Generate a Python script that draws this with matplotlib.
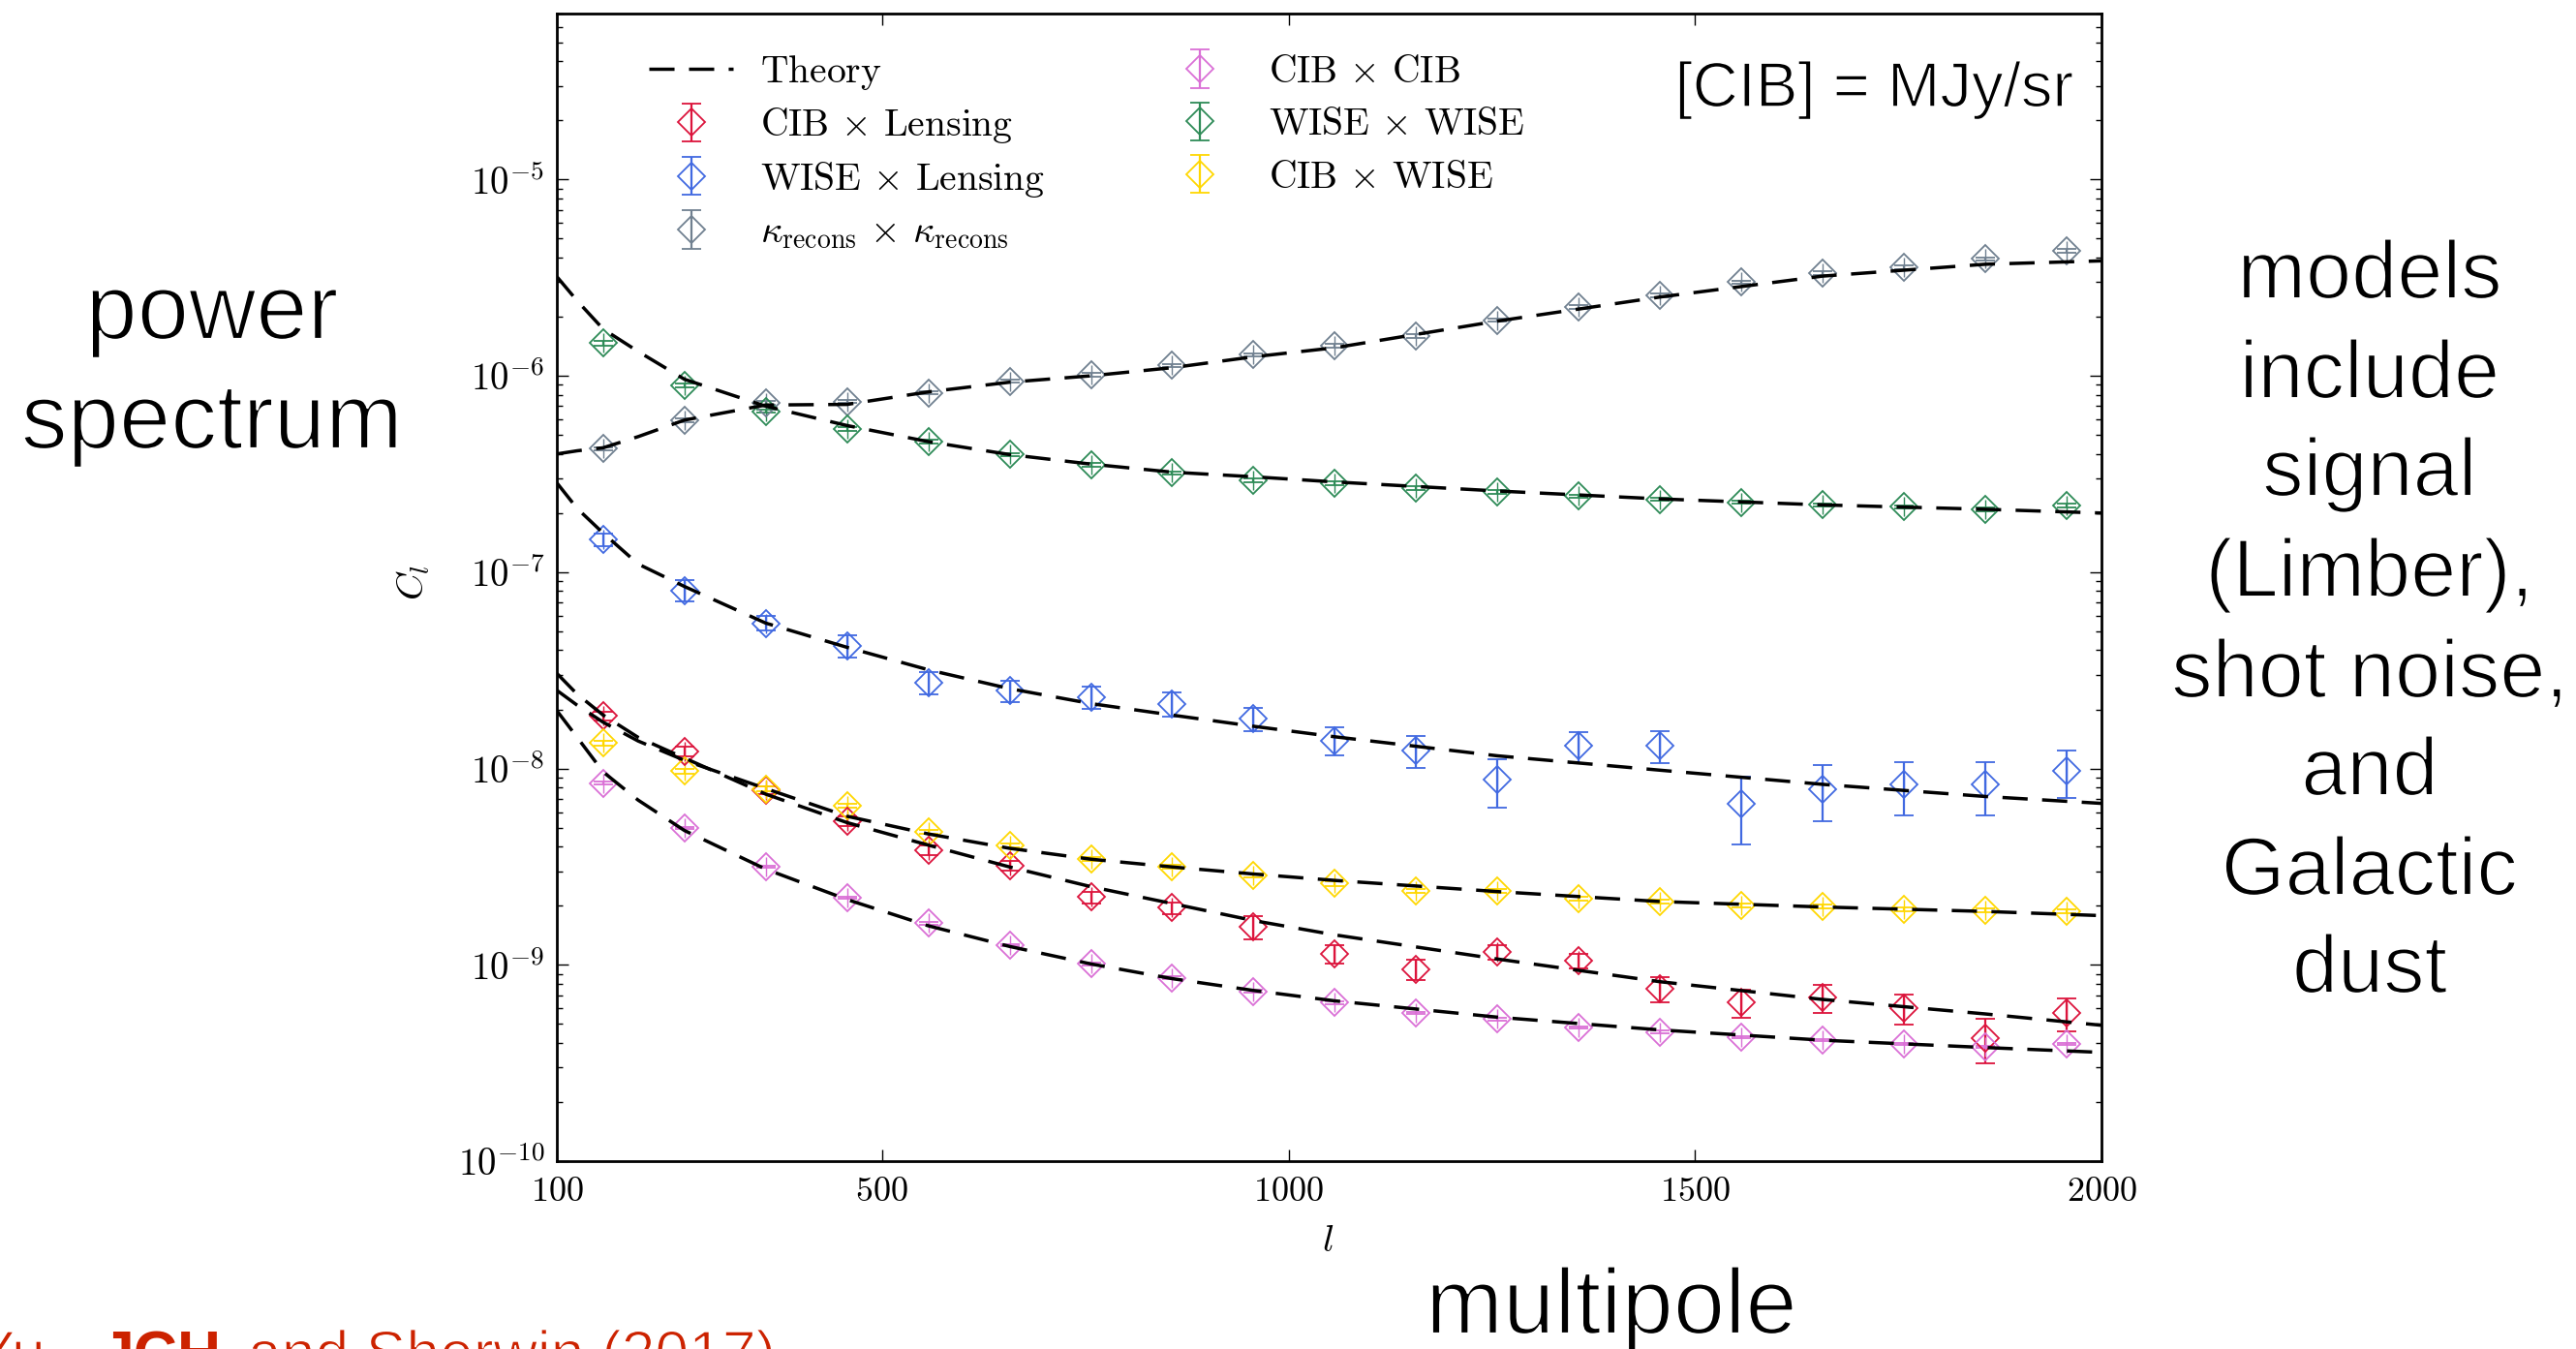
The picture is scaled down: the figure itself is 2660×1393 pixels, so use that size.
import matplotlib
matplotlib.use('Agg')
import matplotlib.pyplot as plt
import matplotlib.patheffects as pe
from matplotlib.lines import Line2D
from matplotlib.ticker import NullLocator, LogLocator

W, H, DPI = 2660, 1393, 100

# ---------------- data ----------------
ell = [157, 257, 357, 457, 557, 657, 757, 857, 957, 1057,
       1157, 1257, 1357, 1457, 1557, 1657, 1757, 1857, 1957]

cib_lens = [1.85e-8, 1.22e-8, 7.73e-9, 5.40e-9, 3.85e-9, 3.19e-9, 2.21e-9, 1.95e-9, 1.56e-9, 1.14e-9,
            9.46e-10, 1.16e-9, 1.05e-9, 7.54e-10, 6.42e-10, 6.79e-10, 6.02e-10, 4.21e-10, 5.67e-10]
cib_lens_err = [8.5e-10, 7e-10, 3.6e-10, 3.1e-10, 2.2e-10, 1.8e-10, 1.5e-10, 1.3e-10, 2.1e-10, 1.2e-10,
                1.1e-10, 1.0e-10, 9e-11, 1.1e-10, 1.05e-10, 1.1e-10, 1.07e-10, 1.07e-10, 1.08e-10]

wise_lens = [1.46e-7, 8.07e-8, 5.49e-8, 4.22e-8, 2.73e-8, 2.49e-8, 2.31e-8, 2.14e-8, 1.79e-8, 1.39e-8,
             1.24e-8, 8.74e-9, 1.30e-8, 1.31e-8, 6.59e-9, 7.88e-9, 8.27e-9, 8.27e-9, 9.70e-9]
wise_lens_err = [1.1e-8, 1.0e-8, 4.7e-9, 5.5e-9, 3.5e-9, 3.0e-9, 3.0e-9, 3.0e-9, 2.4e-9, 2.3e-9,
                 2.3e-9, 2.4e-9, 2.4e-9, 2.4e-9, 2.5e-9, 2.5e-9, 2.5e-9, 2.5e-9, 2.6e-9]

kk = [4.25e-7, 5.95e-7, 7.28e-7, 7.4e-7, 8.19e-7, 9.39e-7, 1.01e-6, 1.13e-6, 1.28e-6, 1.42e-6,
      1.59e-6, 1.92e-6, 2.24e-6, 2.57e-6, 3.0e-6, 3.33e-6, 3.58e-6, 3.94e-6, 4.32e-6]
kk_err = [8e-9, 1.2e-8, 1.5e-8, 1.5e-8, 1.6e-8, 1.9e-8, 2e-8, 2.3e-8, 2.6e-8, 2.9e-8,
          3.2e-8, 3.9e-8, 4.5e-8, 5.2e-8, 6e-8, 6.7e-8, 7.2e-8, 8e-8, 8.6e-8]

cib_cib = [8.43e-9, 4.97e-9, 3.16e-9, 2.20e-9, 1.63e-9, 1.26e-9, 1.01e-9, 8.58e-10, 7.33e-10, 6.42e-10,
           5.69e-10, 5.28e-10, 4.79e-10, 4.54e-10, 4.28e-10, 4.13e-10, 3.96e-10, 3.82e-10, 3.96e-10]
cib_cib_err = [1.3e-10, 7e-11, 4.5e-11, 3.2e-11, 2.4e-11, 1.8e-11, 1.5e-11, 1.3e-11, 1.1e-11, 9.5e-12,
               8.5e-12, 7.8e-12, 7.2e-12, 6.8e-12, 6.5e-12, 6.2e-12, 6e-12, 5.8e-12, 6e-12]

wise_wise = [1.47e-6, 8.94e-7, 6.61e-7, 5.37e-7, 4.62e-7, 3.97e-7, 3.52e-7, 3.20e-7, 2.94e-7, 2.83e-7,
             2.68e-7, 2.56e-7, 2.44e-7, 2.35e-7, 2.27e-7, 2.20e-7, 2.15e-7, 2.09e-7, 2.19e-7]
wise_wise_err = [4.2e-8, 2e-8, 1.3e-8, 1.1e-8, 9e-9, 8e-9, 7e-9, 6.4e-9, 5.9e-9, 5.7e-9,
                 5.4e-9, 5.1e-9, 4.9e-9, 4.7e-9, 4.5e-9, 4.4e-9, 4.3e-9, 4.2e-9, 4.4e-9]

cib_wise = [1.35e-8, 9.70e-9, 7.88e-9, 6.47e-9, 4.77e-9, 4.07e-9, 3.46e-9, 3.16e-9, 2.85e-9, 2.59e-9,
            2.38e-9, 2.38e-9, 2.18e-9, 2.09e-9, 2.00e-9, 1.99e-9, 1.91e-9, 1.89e-9, 1.88e-9]
cib_wise_err = [4e-10, 2.5e-10, 2e-10, 1.6e-10, 1.2e-10, 1e-10, 8.5e-11, 7.5e-11, 6.5e-11, 6e-11,
                5.5e-11, 5.5e-11, 5e-11, 4.8e-11, 4.6e-11, 4.5e-11, 4.4e-11, 4.3e-11, 4.3e-11]

ell_theory = [100, 125, 157, 200, 257, 357, 457, 557, 657, 757, 857, 957, 1057, 1257, 1457, 1657, 1857, 2000]
th_cib_lens = [3.05e-8, 2.39e-8, 1.87e-8, 1.44e-8, 1.13e-8, 7.4e-9, 5.3e-9, 4.07e-9, 3.15e-9, 2.5e-9,
               2.05e-9, 1.68e-9, 1.42e-9, 1.07e-9, 8.2e-10, 6.66e-10, 5.62e-10, 4.92e-10]
th_wise_lens = [2.85e-7, 2.11e-7, 1.58e-7, 1.1e-7, 8.45e-8, 5.5e-8, 4.14e-8, 3.18e-8, 2.55e-8, 2.14e-8,
                1.87e-8, 1.64e-8, 1.45e-8, 1.16e-8, 9.8e-9, 8.3e-9, 7.2e-9, 6.64e-9]
th_kk = [4.0e-7, 4.15e-7, 4.3e-7, 4.9e-7, 5.95e-7, 7.1e-7, 7.15e-7, 8.28e-7, 9.28e-7, 1.0e-6,
         1.10e-6, 1.25e-6, 1.39e-6, 1.90e-6, 2.52e-6, 3.22e-6, 3.70e-6, 3.85e-6]
th_cib_cib = [1.97e-8, 1.44e-8, 9.6e-9, 6.9e-9, 4.83e-9, 3.07e-9, 2.15e-9, 1.58e-9, 1.24e-9, 1.01e-9,
              8.5e-10, 7.4e-10, 6.55e-10, 5.41e-10, 4.66e-10, 4.13e-10, 3.79e-10, 3.58e-10]
th_wise_wise = [3.2e-6, 2.41e-6, 1.73e-6, 1.33e-6, 9.6e-7, 7.0e-7, 5.58e-7, 4.62e-7, 3.97e-7, 3.55e-7,
                3.23e-7, 3.06e-7, 2.88e-7, 2.59e-7, 2.36e-7, 2.20e-7, 2.09e-7, 2.0e-7]
th_cib_wise = [2.5e-8, 2.1e-8, 1.72e-8, 1.38e-8, 1.1e-8, 7.9e-9, 5.71e-9, 4.64e-9, 3.92e-9, 3.45e-9,
               3.15e-9, 2.9e-9, 2.69e-9, 2.36e-9, 2.1e-9, 1.97e-9, 1.87e-9, 1.78e-9]

labels = [r'$\mathrm{CIB}\,\times\,\mathrm{Lensing}$', r'$\mathrm{WISE}\,\times\,\mathrm{Lensing}$',
          r'$\kappa_{\mathrm{recons}}\,\times\,\kappa_{\mathrm{recons}}$',
          r'$\mathrm{CIB}\,\times\,\mathrm{CIB}$', r'$\mathrm{WISE}\,\times\,\mathrm{WISE}$',
          r'$\mathrm{CIB}\,\times\,\mathrm{WISE}$']
colors = ['crimson', 'royalblue', 'slategray', 'orchid', 'seagreen', 'gold']

xticks = [100, 500, 1000, 1500, 2000]
yticks = [1e-10, 1e-9, 1e-8, 1e-7, 1e-6, 1e-5]
ytick_labels = [r'$10^{-10}$', r'$10^{-9}$', r'$10^{-8}$', r'$10^{-7}$', r'$10^{-6}$', r'$10^{-5}$']

# ---------------- figure ----------------
plt.rcParams['mathtext.fontset'] = 'cm'
SANS = ['Liberation Sans', 'DejaVu Sans']

fig = plt.figure(figsize=(W / DPI, H / DPI), dpi=DPI)
ax = fig.add_axes([575 / W, 1 - 1199 / H, (2170 - 575) / W, (1199 - 14) / H])
ax.set_yscale('log')
ax.set_xlim(100, 2000)
ax.set_ylim(1e-10, 7e-5)

data = [(cib_lens, cib_lens_err), (wise_lens, wise_lens_err), (kk, kk_err),
        (cib_cib, cib_cib_err), (wise_wise, wise_wise_err), (cib_wise, cib_wise_err)]
theories = [th_cib_lens, th_wise_lens, th_kk, th_cib_cib, th_wise_wise, th_cib_wise]

handles = []
for (vals, errs), c in zip(data, colors):
    eb = ax.errorbar(ell, vals, yerr=errs, fmt='D', ms=14, mfc='none', mec=c, mew=1.3,
                     ecolor=c, elinewidth=1.6, capsize=7, capthick=1.6, zorder=2)
    ax.plot(ell, vals, ls='none', marker='|', ms=15, mew=1.0, color=c, zorder=2)
    handles.append(eb)

dash = (0, (7.5, 4.3))
for th in theories:
    ax.plot(ell_theory, th, color='k', lw=2.5, ls=dash, zorder=3)

theory_handle = Line2D([], [], color='k', lw=2.5, ls=dash)
leg_handles = [theory_handle] + handles
leg_labels = [r'$\mathrm{Theory}$'] + labels
leg = ax.legend(leg_handles, leg_labels, ncol=2, loc='upper left',
                bbox_to_anchor=(670 / W, 1 - 54 / H), bbox_transform=fig.transFigure,
                frameon=False, fontsize=28.5, borderpad=0, handlelength=2.2,
                handletextpad=0.7, columnspacing=2.95, labelspacing=0.36, borderaxespad=0)

ax.set_xticks(xticks)
ax.set_xticklabels([r'$%d$' % v for v in xticks])
ax.xaxis.set_minor_locator(NullLocator())
ax.set_yticks(yticks)
ax.set_yticklabels(ytick_labels)
ax.yaxis.set_minor_locator(LogLocator(base=10, subs=range(2, 10), numticks=30))
ax.tick_params(which='major', direction='in', length=8.5, width=1.0, top=True, right=True,
               labelsize=26)
ax.tick_params(axis='x', which='major', pad=10)
ax.tick_params(axis='y', which='major', pad=9, labelsize=28)
ax.tick_params(which='minor', direction='in', length=4.3, width=1.0, top=True, right=True)
for sp in ax.spines.values():
    sp.set_linewidth(2.0)

ax.text(-0.0928, 0.504, r'$C_l$', rotation=90, fontsize=28, transform=ax.transAxes,
        ha='center', va='center')
ax.text(0.499, -0.069, r'$l$', fontsize=28, transform=ax.transAxes, ha='center', va='center')


def ftext(x, y, s, thin=0.0, **kw):
    t = fig.text(x / W, 1 - y / H, s, **kw)
    if thin > 0:
        t.set_path_effects([pe.Stroke(linewidth=thin, foreground='white')])
    return t


ftext(2141, 110, '[CIB] = MJy/sr', thin=1.1, ha='right', va='baseline', fontsize=47, family=SANS)
ftext(219, 350, 'power', thin=1.6, ha='center', va='baseline', fontsize=69, family=SANS)
ftext(219, 463, 'spectrum', thin=1.6, ha='center', va='baseline', fontsize=69, family=SANS)
ftext(1664, 1377, 'multipole', thin=1.6, ha='center', va='baseline', fontsize=69, family=SANS)

right_lines = ['models', 'include', 'signal', '(Limber),', 'shot noise,', 'and', 'Galactic', 'dust']
right_base = [308, 411, 512, 616, 720, 821, 924, 1025]
for s, yb in zip(right_lines, right_base):
    ftext(2447, yb, s, thin=1.4, ha='center', va='baseline', fontsize=61, family=SANS)

red = '#cc2200'
ftext(64, 1418, 'Yu,', thin=1.0, ha='right', va='baseline', fontsize=45, family=SANS, color=red)
ftext(103, 1418, 'JCH,', ha='left', va='baseline', fontsize=45, family=SANS,
      fontweight='bold', color=red)
ftext(256, 1418, 'and Sherwin (2017)', thin=1.0, ha='left', va='baseline', fontsize=45,
      family=SANS, color=red)

fig.savefig('out.png', dpi=DPI)
